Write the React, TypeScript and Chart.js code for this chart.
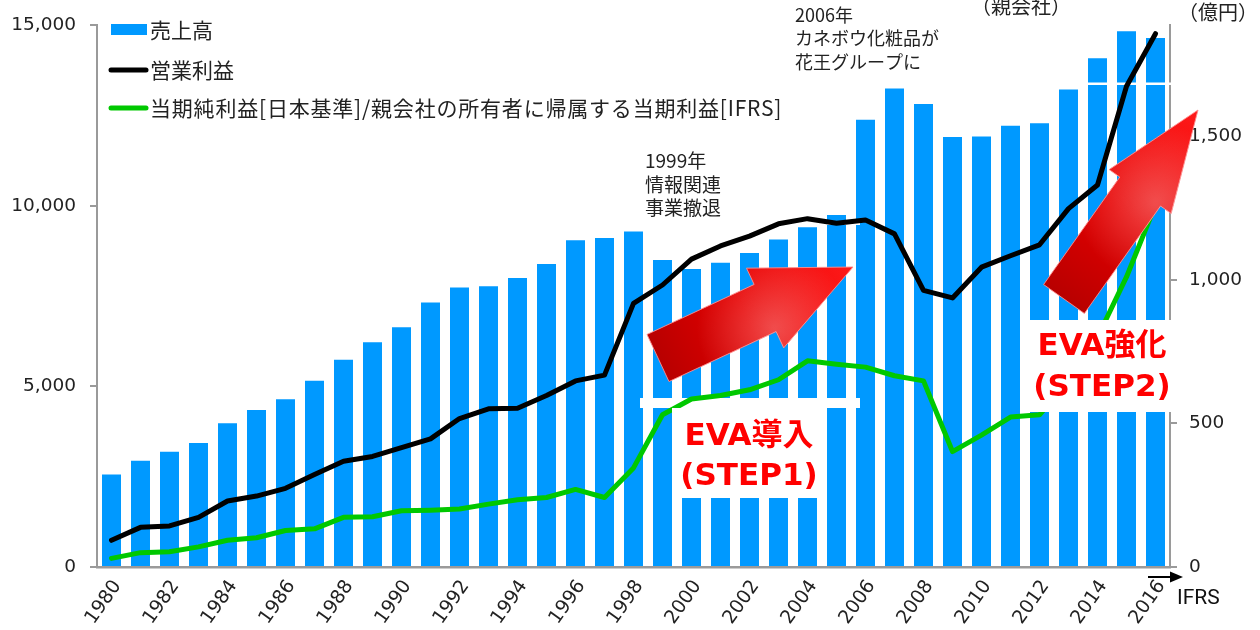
import React, { useEffect, useRef } from 'react';
import { Chart, registerables } from 'chart.js';
Chart.register(...registerables);

const years = ['1980','1981','1982','1983','1984','1985','1986','1987','1988','1989','1990','1991','1992','1993','1994','1995','1996','1997','1998','1999','2000','2001','2002','2003','2004','2005','2006','2007','2008','2009','2010','2011','2012','2013','2014','2015','2016'];

// 売上高 (left axis)
const sales = [2560, 2942, 3188, 3434, 3980, 4344, 4645, 5155, 5738, 6221, 6639, 7322, 7740, 7768, 7997, 8388, 9044, 9107, 9290,
  8497, 8251, 8424, 8689, 9063, 9407, 9746,
  12377, 13245, 12814, 11900, 11913, 12213, 12285, 13215, 14085, 14830, 14645];

// 営業利益 (right axis)
const opProfit = [93, 138, 143, 173, 230, 247, 274, 322, 368, 385, 416, 446, 517, 551, 553, 597, 648, 668, 918,
  982, 1072, 1118, 1152, 1195, 1213, 1197,
  1208, 1160, 963, 937, 1044, 1084, 1122, 1248, 1330, 1674, 1857];

// 当期純利益 (right axis)
const netIncome = [30, 50, 53, 70, 93, 102, 127, 133, 173, 175, 196, 198, 202, 219, 234, 242, 270, 242, 345,
  530, 585, 597, 617, 652, 718, 706,
  696, 666, 648, 402, 459, 522, 530, 650, 800, 1010, 1261];

const seriesNames = ['売上高', '営業利益', '当期純利益[日本基準]/親会社の所有者に帰属する当期利益[IFRS]'];
const leftTickValues = [0, 5000, 10000, 15000];
const rightTickValues = [0, 500, 1000, 1500];
const leftMax = 15000;
const rightMax = 1887;

const BAR = '#0099FF';
const GREEN = '#00C800';
const TXT = '#222222';
const AXIS = '#9a9a9a';
const FONT = "'DejaVu Sans', 'Noto Sans CJK JP', sans-serif";
const JFONT = "'Noto Sans CJK JP', sans-serif";

function drawArrow(ctx: CanvasRenderingContext2D, tx: number, ty: number, hx: number, hy: number, shaftW: number, headW: number, headL: number) {
  const dx = hx - tx, dy = hy - ty;
  const len = Math.hypot(dx, dy);
  const ux = dx / len, uy = dy / len;
  const nx = -uy, ny = ux;
  const bx = hx - ux * headL, by = hy - uy * headL;
  const pts: [number, number][] = [
    [tx + nx * shaftW / 2, ty + ny * shaftW / 2],
    [bx + nx * shaftW / 2, by + ny * shaftW / 2],
    [bx + nx * headW / 2, by + ny * headW / 2],
    [hx, hy],
    [bx - nx * headW / 2, by - ny * headW / 2],
    [bx - nx * shaftW / 2, by - ny * shaftW / 2],
    [tx - nx * shaftW / 2, ty - ny * shaftW / 2],
  ];
  ctx.save();
  ctx.beginPath();
  pts.forEach((p, i) => (i ? ctx.lineTo(p[0], p[1]) : ctx.moveTo(p[0], p[1])));
  ctx.closePath();
  const g = ctx.createLinearGradient(tx, ty, hx, hy);
  g.addColorStop(0, '#B80000');
  g.addColorStop(0.45, '#E60000');
  g.addColorStop(1, '#FF1A1A');
  ctx.fillStyle = g;
  ctx.fill();
  ctx.strokeStyle = 'rgba(255,140,140,0.9)';
  ctx.lineWidth = 1;
  ctx.stroke();
  ctx.clip();
  const cx = bx + nx * headW * 0.25, cy = by + ny * headW * 0.25;
  const rg = ctx.createRadialGradient(cx, cy, 2, cx, cy, headL * 0.8);
  rg.addColorStop(0, 'rgba(255,255,255,0.28)');
  rg.addColorStop(1, 'rgba(255,255,255,0)');
  ctx.fillStyle = rg;
  ctx.fillRect(bx - headL * 1.5, by - headL * 1.5, headL * 3, headL * 3);
  ctx.restore();
}

const deco = {
  id: 'deco',
  afterDatasetDraw(chart: any, args: any) {
    if (args.index !== 0) return;
    const ctx = chart.ctx as CanvasRenderingContext2D;
    ctx.save();
    ctx.fillStyle = '#ffffff';
    ctx.fillRect(640, 398, 220, 10);
    ctx.fillRect(640, 222.5, 220, 2.5);
    ctx.fillRect(1033, 82.5, 140, 2.5);
    ctx.restore();
  },
  afterDraw(chart: any) {
    const ctx = chart.ctx as CanvasRenderingContext2D;
    ctx.save();
    // legend
    ctx.fillStyle = BAR;
    ctx.fillRect(111, 24, 36, 11);
    ctx.lineCap = 'round';
    ctx.lineWidth = 5;
    ctx.strokeStyle = '#000';
    ctx.beginPath(); ctx.moveTo(111, 70); ctx.lineTo(146, 70); ctx.stroke();
    ctx.strokeStyle = GREEN;
    ctx.beginPath(); ctx.moveTo(111, 108); ctx.lineTo(146, 108); ctx.stroke();
    ctx.fillStyle = TXT;
    ctx.textBaseline = 'middle';
    ctx.textAlign = 'left';
    ctx.font = `21px ${JFONT}`;
    ctx.fillText(seriesNames[0], 150, 30);
    ctx.fillText(seriesNames[1], 150, 70);
    (ctx as any).letterSpacing = '0.8px';
    ctx.fillText(seriesNames[2], 150, 108);
    (ctx as any).letterSpacing = '0px';

    // notes
    ctx.font = `19px ${JFONT}`;
    ctx.fillText('1999年', 645, 161);
    ctx.fillText('情報関連', 645, 185);
    ctx.fillText('事業撤退', 645, 208);
    ctx.font = `18px ${JFONT}`;
    ctx.fillText('2006年', 795, 15);
    ctx.fillText('カネボウ化粧品が', 795, 38.5);
    ctx.fillText('花王グループに', 795, 62);
    ctx.font = `20px ${JFONT}`;
    ctx.fillText('（親会社）', 971, 6);
    ctx.fillText('（億円）', 1178, 12);

    // STEP boxes
    ctx.fillStyle = '#ffffff';
    ctx.fillRect(672, 408, 154, 90);
    ctx.fillRect(1029, 320, 150, 92);
    ctx.fillStyle = '#FF0000';
    ctx.textAlign = 'center';
    ctx.font = `bold 31px ${FONT}`;
    ctx.fillText('EVA導入', 749, 437);
    ctx.fillText('(STEP1)', 749, 477);
    ctx.fillText('EVA強化', 1102, 347);
    ctx.fillText('(STEP2)', 1102, 388);
    ctx.restore();

    // arrows
    drawArrow(ctx, 658, 358, 853, 267, 52, 88, 97);
    drawArrow(ctx, 1064, 299, 1198, 110, 50, 76, 100);

    // IFRS marker
    ctx.save();
    ctx.strokeStyle = '#000';
    ctx.fillStyle = '#000';
    ctx.lineWidth = 2;
    ctx.beginPath(); ctx.moveTo(1148, 577); ctx.lineTo(1172, 577); ctx.stroke();
    ctx.beginPath(); ctx.moveTo(1170, 571.5); ctx.lineTo(1183, 577); ctx.lineTo(1170, 582.5); ctx.closePath(); ctx.fill();
    ctx.fillStyle = '#111';
    ctx.font = `21px Roboto, sans-serif`;
    ctx.textAlign = 'left';
    ctx.textBaseline = 'middle';
    ctx.fillText('IFRS', 1177, 599);
    ctx.restore();
  },
};

export default function App() {
  const ref = useRef<HTMLCanvasElement | null>(null);
  useEffect(() => {
    if (!ref.current) return;
    const chart = new Chart(ref.current, {
      type: 'bar',
      data: {
        labels: years,
        datasets: [
          { type: 'bar', label: seriesNames[0], data: sales, backgroundColor: BAR, yAxisID: 'y', order: 3, barPercentage: 0.655, categoryPercentage: 1 } as any,
          { type: 'line', label: seriesNames[1], data: opProfit, borderColor: '#000000', borderWidth: 5, pointRadius: 0, yAxisID: 'y2', order: 1, borderJoinStyle: 'round', borderCapStyle: 'round', tension: 0 } as any,
          { type: 'line', label: seriesNames[2], data: netIncome, borderColor: GREEN, borderWidth: 5, pointRadius: 0, yAxisID: 'y2', order: 2, borderJoinStyle: 'round', borderCapStyle: 'round', tension: 0 } as any,
        ],
      },
      options: {
        animation: false,
        responsive: false,
        layout: { padding: { top: 18, left: 0, right: 0, bottom: 0 } },
        plugins: { legend: { display: false }, tooltip: { enabled: false } },
        scales: {
          x: {
            grid: { display: false, drawTicks: false },
            border: { display: true, color: AXIS, width: 2.5 },
            ticks: {
              autoSkip: false, minRotation: 55, maxRotation: 55, padding: 9, labelOffset: 6,
              color: TXT, font: { family: FONT, size: 19 },
              callback: (_v: any, i: number) => (i % 2 === 0 ? years[i] : ''),
            },
            afterFit: (s: any) => { s.height = 63; },
          },
          y: {
            position: 'left', min: 0, max: leftMax,
            grid: { drawOnChartArea: false, drawTicks: true, tickLength: 7, color: AXIS, lineWidth: 2 },
            border: { display: true, color: AXIS, width: 2 },
            ticks: { padding: 14, color: TXT, font: { family: FONT, size: 18.5 } },
            afterBuildTicks: (s: any) => { s.ticks = leftTickValues.map((v) => ({ value: v })); },
            afterFit: (s: any) => { s.width = 97; },
          },
          y2: {
            position: 'right', min: 0, max: rightMax,
            grid: { drawOnChartArea: false, drawTicks: true, tickLength: 7, color: AXIS, lineWidth: 2 },
            border: { display: true, color: AXIS, width: 2 },
            ticks: { padding: 12, color: TXT, font: { family: FONT, size: 18.5 } },
            afterBuildTicks: (s: any) => { s.ticks = rightTickValues.map((v) => ({ value: v })); },
            afterFit: (s: any) => { s.width = 90; },
          },
        },
      } as any,
      plugins: [deco],
    });
    return () => chart.destroy();
  }, []);
  return (
    <div style={{ position: 'fixed', left: 0, top: 0, width: 1260, height: 630, background: '#fff' }}>
      <canvas ref={ref} width={1260} height={630} style={{ display: 'block' }} />
    </div>
  );
}
